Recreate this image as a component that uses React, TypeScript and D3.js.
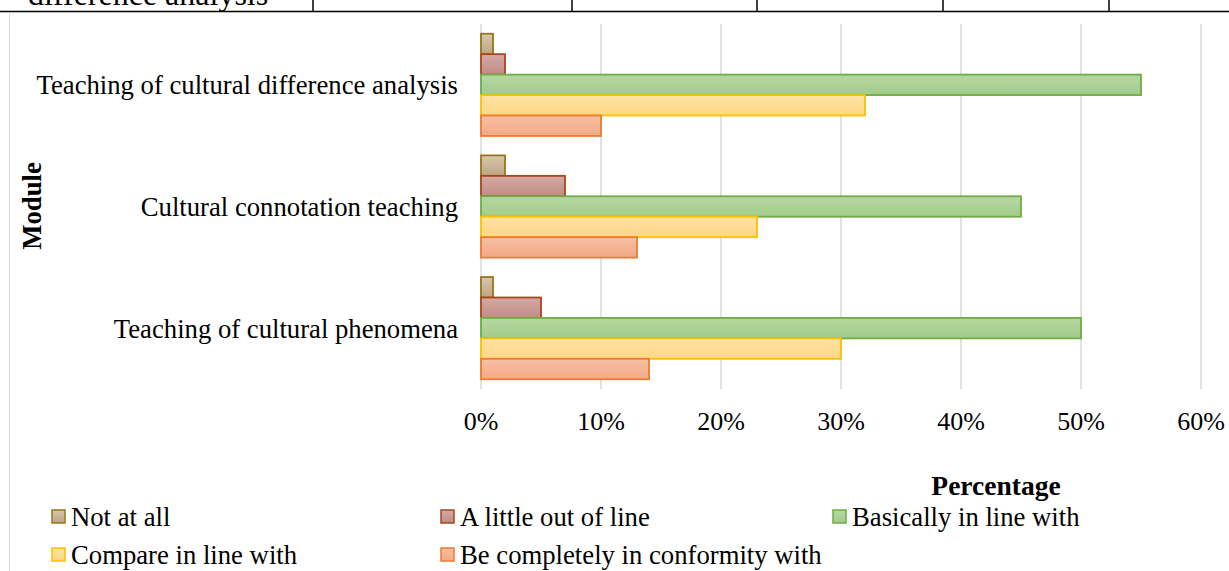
import * as d3 from 'd3';
import React, { useRef, useEffect } from 'react';

// chart data
const categories = [
  'Teaching of cultural difference analysis',
  'Cultural connotation teaching',
  'Teaching of cultural phenomena',
];
const seriesNames = [
  'Not at all',
  'A little out of line',
  'Basically in line with',
  'Compare in line with',
  'Be completely in conformity with',
];
// one array per series, in category order
const notAtAll = [0.01, 0.02, 0.01];
const littleOut = [0.02, 0.07, 0.05];
const basically = [0.55, 0.45, 0.5];
const compare = [0.32, 0.23, 0.3];
const completely = [0.1, 0.13, 0.14];
const xTicks = [0, 0.1, 0.2, 0.3, 0.4, 0.5, 0.6];

const seriesValues = [notAtAll, littleOut, basically, compare, completely];
const colors = [
  { top: '#d6c7ae', bottom: '#bda583', stroke: '#9a7416' },
  { top: '#d3aaa4', bottom: '#c18c84', stroke: '#a9461a' },
  { top: '#b6d7a3', bottom: '#a3cb89', stroke: '#6fac46' },
  { top: '#ffe2a4', bottom: '#ffd685', stroke: '#fec000' },
  { top: '#f7bfa4', bottom: '#f3a985', stroke: '#ec7c31' },
];

const W = 1229;
const H = 571;
const FONT = '"Liberation Serif", "Times New Roman", serif';
const FS = 26.7;

export default function App() {
  const ref = useRef<SVGSVGElement>(null);

  useEffect(() => {
    const svg = d3.select(ref.current);
    svg.selectAll('*').remove();

    const defs = svg.append('defs');
    colors.forEach((c, i) => {
      const g = defs.append('linearGradient')
        .attr('id', 'grad' + i)
        .attr('x1', 0).attr('y1', 0).attr('x2', 0).attr('y2', 1);
      g.append('stop').attr('offset', '0%').attr('stop-color', c.top);
      g.append('stop').attr('offset', '100%').attr('stop-color', c.bottom);
    });

    // bit of the table above that got cut off
    svg.append('text')
      .attr('x', 28).attr('y', 5)
      .attr('font-family', FONT).attr('font-size', 32)
      .text('difference analysis');
    [313, 572, 757, 943, 1109].forEach((x) => {
      svg.append('line')
        .attr('x1', x).attr('x2', x).attr('y1', 0).attr('y2', 11)
        .attr('stroke', '#000').attr('stroke-width', 1.5);
    });
    svg.append('line')
      .attr('x1', 0).attr('x2', W).attr('y1', 11.5).attr('y2', 11.5)
      .attr('stroke', '#000').attr('stroke-width', 1.3);

    // chart frame
    svg.append('line')
      .attr('x1', 9.5).attr('x2', 9.5).attr('y1', 13).attr('y2', H)
      .attr('stroke', '#d9d9d9').attr('stroke-width', 1);

    const x = d3.scaleLinear().domain([0, 0.6]).range([481, 1201]);
    const y = d3.scaleBand().domain(categories).range([24, 389])
      .paddingInner(0.16).paddingOuter(0.08);
    const ys = d3.scaleBand().domain(seriesNames.map((_, i) => String(i)))
      .range([0, y.bandwidth()]);

    // gridlines
    svg.append('g')
      .selectAll('line')
      .data(xTicks)
      .enter()
      .append('line')
      .attr('x1', (d) => x(d)).attr('x2', (d) => x(d))
      .attr('y1', 24).attr('y2', 389)
      .attr('stroke', '#d9d9d9').attr('stroke-width', 1.5);

    // x tick labels
    svg.append('g')
      .selectAll('text')
      .data(xTicks)
      .enter()
      .append('text')
      .attr('x', (d) => x(d))
      .attr('y', 421)
      .attr('dy', '0.35em')
      .attr('text-anchor', 'middle')
      .attr('font-family', FONT).attr('font-size', 26)
      .text((d) => d3.format('.0%')(d));

    // category labels
    svg.append('g')
      .selectAll('text')
      .data(categories)
      .enter()
      .append('text')
      .attr('x', 458)
      .attr('y', (d) => (y(d) as number) + y.bandwidth() / 2)
      .attr('dy', '0.35em')
      .attr('text-anchor', 'end')
      .attr('font-family', FONT).attr('font-size', FS)
      .text((d) => d);

    // bars
    seriesValues.forEach((vals, si) => {
      svg.append('g')
        .selectAll('rect')
        .data(vals)
        .enter()
        .append('rect')
        .attr('x', x(0))
        .attr('y', (d, ci) => (y(categories[ci]) as number) + (ys(String(si)) as number))
        .attr('width', (d) => x(d) - x(0))
        .attr('height', ys.bandwidth())
        .attr('fill', 'url(#grad' + si + ')')
        .attr('stroke', colors[si].stroke)
        .attr('stroke-width', 1.8);
    });

    // axis titles
    svg.append('text')
      .attr('x', 996).attr('y', 485)
      .attr('dy', '0.35em')
      .attr('text-anchor', 'middle')
      .attr('font-family', FONT).attr('font-size', 27.5).attr('font-weight', 'bold')
      .text('Percentage');
    svg.append('text')
      .attr('transform', 'translate(32,206) rotate(-90)')
      .attr('dy', '0.35em')
      .attr('text-anchor', 'middle')
      .attr('font-family', FONT).attr('font-size', FS).attr('font-weight', 'bold')
      .text('Module');

    // legend
    const legendPos = [
      [52, 517], [441, 517], [833, 517],
      [52, 555], [441, 555],
    ];
    seriesNames.forEach((name, i) => {
      const [lx, ly] = legendPos[i];
      svg.append('rect')
        .attr('x', lx).attr('y', ly - 7)
        .attr('width', 13).attr('height', 13)
        .attr('fill', 'url(#grad' + i + ')')
        .attr('stroke', colors[i].stroke)
        .attr('stroke-width', 1.5);
      svg.append('text')
        .attr('x', lx + 19).attr('y', ly)
        .attr('dy', '0.35em')
        .attr('font-family', FONT).attr('font-size', FS)
        .text(name);
    });
  }, []);

  return (
    <div className="chart">
      <svg ref={ref} width={W} height={H}
        style={{ position: 'absolute', left: 0, top: 0, background: '#fff' }}>
      </svg>
    </div>
  );
}
